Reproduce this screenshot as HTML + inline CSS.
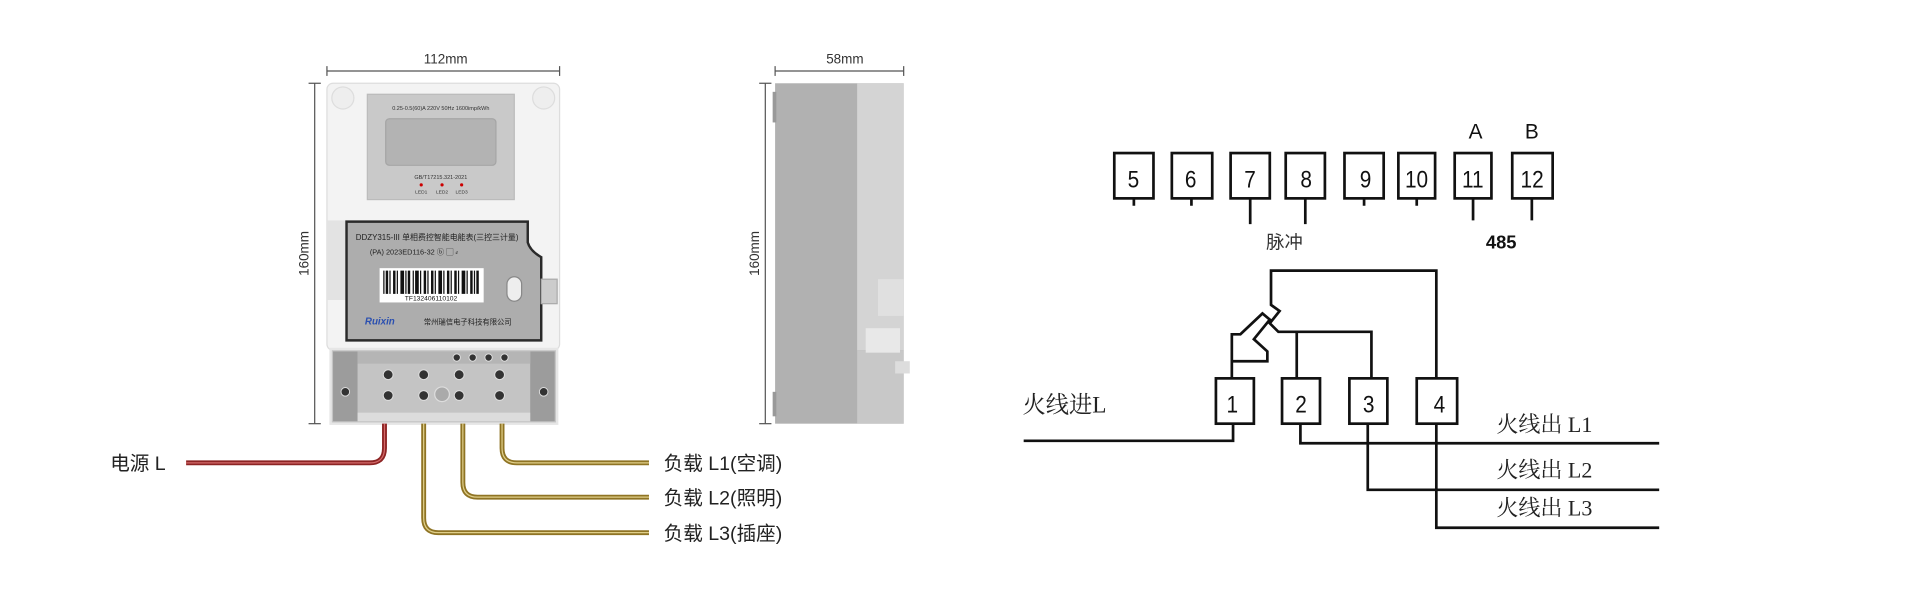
<!DOCTYPE html>
<html><head><meta charset="utf-8"><style>
html,body{margin:0;padding:0;background:#fff;width:1920px;height:600px;overflow:hidden}
svg{display:block}
.s{font-family:"Liberation Sans","Noto Sans CJK SC",sans-serif}
.r{font-family:"Liberation Serif","Noto Serif CJK SC",serif}
</style></head><body>
<svg width="1920" height="600" viewBox="0 0 1568 490" xmlns="http://www.w3.org/2000/svg">
<!-- dimensions front -->
<g stroke="#555" stroke-width="1" fill="none">
<line x1="267" y1="58" x2="457" y2="58"/><line x1="267" y1="54" x2="267" y2="62"/><line x1="457" y1="54" x2="457" y2="62"/>
<line x1="257" y1="68" x2="257" y2="346"/><line x1="252" y1="68" x2="262" y2="68"/><line x1="252" y1="346" x2="262" y2="346"/>
<line x1="633" y1="58" x2="738" y2="58"/><line x1="633" y1="54" x2="633" y2="62"/><line x1="738" y1="54" x2="738" y2="62"/>
<line x1="625" y1="68" x2="625" y2="346"/><line x1="620" y1="68" x2="630" y2="68"/><line x1="620" y1="346" x2="630" y2="346"/>
</g>
<text class="s" x="364" y="52" font-size="11" text-anchor="middle" fill="#333">112mm</text>
<text class="s" x="690" y="52" font-size="11" text-anchor="middle" fill="#333">58mm</text>
<text class="s" transform="translate(252,207) rotate(-90)" font-size="11" text-anchor="middle" fill="#333">160mm</text>
<text class="s" transform="translate(620,207) rotate(-90)" font-size="11" text-anchor="middle" fill="#333">160mm</text>
<!-- front meter -->
<rect x="267" y="68" width="190" height="218" rx="5" fill="#f3f3f3" stroke="#ddd"/>
<circle cx="280" cy="80" r="9" fill="#eee" stroke="#ddd"/><circle cx="444" cy="80" r="9" fill="#eee" stroke="#ddd"/>
<rect x="267" y="180" width="16" height="65" fill="#e3e3e3"/>
<rect x="300" y="77" width="120" height="86" fill="#c9c9c9" stroke="#bbb"/>
<text class="s" x="360" y="90" font-size="4.5" text-anchor="middle" fill="#333">0.25-0.5(60)A 220V 50Hz 1600imp/kWh</text>
<rect x="315" y="97" width="90" height="38" rx="3" fill="#b3b3b3" stroke="#a5a5a5"/>
<text class="s" x="360" y="146" font-size="4.5" text-anchor="middle" fill="#333">GB/T17215.321-2021</text>
<circle cx="344" cy="151" r="1.3" fill="#c00"/><circle cx="361" cy="151" r="1.3" fill="#c00"/><circle cx="377" cy="151" r="1.3" fill="#c00"/>
<text class="s" x="344" y="158" font-size="4" text-anchor="middle" fill="#333">LED1</text>
<text class="s" x="361" y="158" font-size="4" text-anchor="middle" fill="#333">LED2</text>
<text class="s" x="377" y="158" font-size="4" text-anchor="middle" fill="#333">LED3</text>
<path d="M283,181 H431 V198 Q433,205 442,210 V278 H283 Z" fill="#adadad" stroke="#2a2a2a" stroke-width="2"/>
<text class="s" x="357" y="196" font-size="6.5" text-anchor="middle" fill="#222">DDZY315-III 单相费控智能电能表(三控三计量)</text>
<text class="s" x="338" y="208" font-size="6" text-anchor="middle" fill="#222">(PA)    2023ED116-32    ⓑ ▢ ⸗</text>
<rect x="310" y="219" width="85" height="28" fill="#fff"/>
<g fill="#111">
<rect x="313" y="221" width="1" height="19"/><rect x="315" y="221" width="2" height="19"/><rect x="318" y="221" width="1" height="19"/><rect x="321" y="221" width="2" height="19"/><rect x="324" y="221" width="1" height="19"/><rect x="327" y="221" width="3" height="19"/><rect x="331" y="221" width="1" height="19"/><rect x="333" y="221" width="2" height="19"/><rect x="337" y="221" width="1" height="19"/><rect x="339" y="221" width="3" height="19"/><rect x="343" y="221" width="1" height="19"/><rect x="346" y="221" width="2" height="19"/><rect x="349" y="221" width="1" height="19"/><rect x="352" y="221" width="2" height="19"/><rect x="355" y="221" width="1" height="19"/><rect x="358" y="221" width="3" height="19"/><rect x="362" y="221" width="1" height="19"/><rect x="365" y="221" width="2" height="19"/><rect x="368" y="221" width="1" height="19"/><rect x="371" y="221" width="2" height="19"/><rect x="374" y="221" width="1" height="19"/><rect x="377" y="221" width="3" height="19"/><rect x="381" y="221" width="1" height="19"/><rect x="384" y="221" width="2" height="19"/><rect x="387" y="221" width="1" height="19"/><rect x="389" y="221" width="2" height="19"/>
</g>
<text class="s" x="352" y="245.5" font-size="5.5" text-anchor="middle" fill="#111">TF132406110102</text>
<rect x="414" y="226" width="12" height="20" rx="6" fill="#eee" stroke="#888"/>
<rect x="442" y="228" width="13" height="20" fill="#ccc" stroke="#aaa"/>
<text class="s" x="298" y="265" font-size="8" font-weight="bold" font-style="italic" fill="#2a4fb0">Ruixin</text>
<text class="s" x="382" y="265" font-size="6" text-anchor="middle" fill="#222">常州瑞信电子科技有限公司</text>
<rect x="270" y="285" width="185" height="61" fill="#c4c4c4" stroke="#e6e6e6" stroke-width="2"/>
<rect x="272" y="287" width="20" height="57" fill="#9c9c9c"/><rect x="433" y="287" width="20" height="57" fill="#9c9c9c"/>
<rect x="292" y="287" width="141" height="10" fill="#b5b5b5"/>
<rect x="292" y="337" width="141" height="7" fill="#dcdcdc"/>
<g fill="#333" stroke="#ddd" stroke-width="0.8">
<circle cx="317" cy="306" r="4"/><circle cx="317" cy="323" r="4"/>
<circle cx="346" cy="306" r="4"/><circle cx="346" cy="323" r="4"/>
<circle cx="375" cy="306" r="4"/><circle cx="375" cy="323" r="4"/>
<circle cx="408" cy="306" r="4"/><circle cx="408" cy="323" r="4"/>
<circle cx="373" cy="292" r="3"/><circle cx="386" cy="292" r="3"/><circle cx="399" cy="292" r="3"/><circle cx="412" cy="292" r="3"/>
<circle cx="282" cy="320" r="3.5"/><circle cx="444" cy="320" r="3.5"/>
</g>
<circle cx="361" cy="322" r="6" fill="#aaa" stroke="#ddd"/>
<!-- side -->
<rect x="633" y="68" width="105" height="278" fill="#b1b1b1"/>
<rect x="700" y="68" width="38" height="218" fill="#d4d4d4"/>
<rect x="700" y="286" width="38" height="60" fill="#c8c8c8"/>
<rect x="717" y="228" width="21" height="30" fill="#e0e0e0"/>
<rect x="707" y="268" width="28" height="20" fill="#e8e8e8"/>
<rect x="731" y="295" width="12" height="10" fill="#ddd"/>
<rect x="631" y="75" width="3" height="25" fill="#999"/>
<rect x="631" y="320" width="3" height="20" fill="#999"/>
<!-- wires -->
<g fill="none" stroke-linecap="butt">
<path d="M314,346 V366 Q314,378 302,378 H152" stroke="#8d2424" stroke-width="4"/>
<path d="M314,346 V366 Q314,378 302,378 H152" stroke="#d46a6a" stroke-width="1"/>
<path d="M410,346 V366 Q410,378 422,378 H530" stroke="#8f7424" stroke-width="4"/>
<path d="M378,346 V394 Q378,406 390,406 H530" stroke="#8f7424" stroke-width="4"/>
<path d="M346,346 V423 Q346,435 358,435 H530" stroke="#8f7424" stroke-width="4"/>
<path d="M410,346 V366 Q410,378 422,378 H530" stroke="#e0cf8a" stroke-width="1"/>
<path d="M378,346 V394 Q378,406 390,406 H530" stroke="#e0cf8a" stroke-width="1"/>
<path d="M346,346 V423 Q346,435 358,435 H530" stroke="#e0cf8a" stroke-width="1"/>
</g>
<text class="s" x="90" y="384" font-size="16" fill="#222">电源 L</text>
<text class="s" x="542" y="384" font-size="16" fill="#222">负载 L1(空调)</text>
<text class="s" x="542" y="412" font-size="16" fill="#222">负载 L2(照明)</text>
<text class="s" x="542" y="441" font-size="16" fill="#222">负载 L3(插座)</text>
<!-- right diagram -->
<g fill="none" stroke="#111" stroke-width="2.2">
<rect x="910" y="125" width="32" height="37"/>
<rect x="957" y="125" width="33" height="37"/>
<rect x="1005" y="125" width="32" height="37"/>
<rect x="1050" y="125" width="32" height="37"/>
<rect x="1098" y="125" width="32" height="37"/>
<rect x="1142" y="125" width="30" height="37"/>
<rect x="1188" y="125" width="30" height="37"/>
<rect x="1235" y="125" width="33" height="37"/>
<path d="M926,162 V168 M973,162 V168 M1021,162 V183 M1066,162 V183 M1114,162 V168 M1157,162 V168 M1203,162 V180 M1251,162 V180"/>
<rect x="993" y="309" width="31" height="37"/>
<rect x="1047" y="309" width="31" height="37"/>
<rect x="1102" y="309" width="31" height="37"/>
<rect x="1157" y="309" width="33" height="37"/>
<path d="M836,360 H1007 V346"/>
<path d="M1062,346 V362 H1355"/>
<path d="M1117,346 V400 H1355"/>
<path d="M1173,346 V431 H1355"/>
<path d="M1173,309 V221 H1038 V249 L1045,254 L1037,264 L1044,271 H1120 V309"/>
<path d="M1059,271 V309"/>
<path d="M1006,309 V273 H1013 L1031,256 L1037,261 L1024,277 L1035,287 V295 H1006"/>
</g>
<g class="s" font-size="20" fill="#111" text-anchor="middle" transform="scale(0.85,1)">
<text x="1089" y="153">5</text><text x="1144" y="153">6</text><text x="1201" y="153">7</text><text x="1255" y="153">8</text><text x="1312" y="153">9</text><text x="1361" y="153">10</text><text x="1415" y="153">11</text><text x="1472" y="153">12</text>
<text x="1184" y="337">1</text><text x="1250" y="337">2</text><text x="1315" y="337">3</text><text x="1383" y="337">4</text>
</g>
<text class="s" x="1205" y="113" font-size="17" text-anchor="middle" fill="#111">A</text>
<text class="s" x="1251" y="113" font-size="17" text-anchor="middle" fill="#111">B</text>
<text class="s" x="1049" y="203" font-size="15" text-anchor="middle" fill="#333">脉冲</text>
<text class="s" x="1226" y="203" font-size="15" font-weight="bold" text-anchor="middle" fill="#111">485</text>
<text class="r" x="835" y="337" font-size="19" fill="#222">火线进L</text>
<text class="r" x="1222" y="353" font-size="18" fill="#222">火线出 L1</text>
<text class="r" x="1222" y="390" font-size="18" fill="#222">火线出 L2</text>
<text class="r" x="1222" y="421" font-size="18" fill="#222">火线出 L3</text>
</svg>
</body></html>
